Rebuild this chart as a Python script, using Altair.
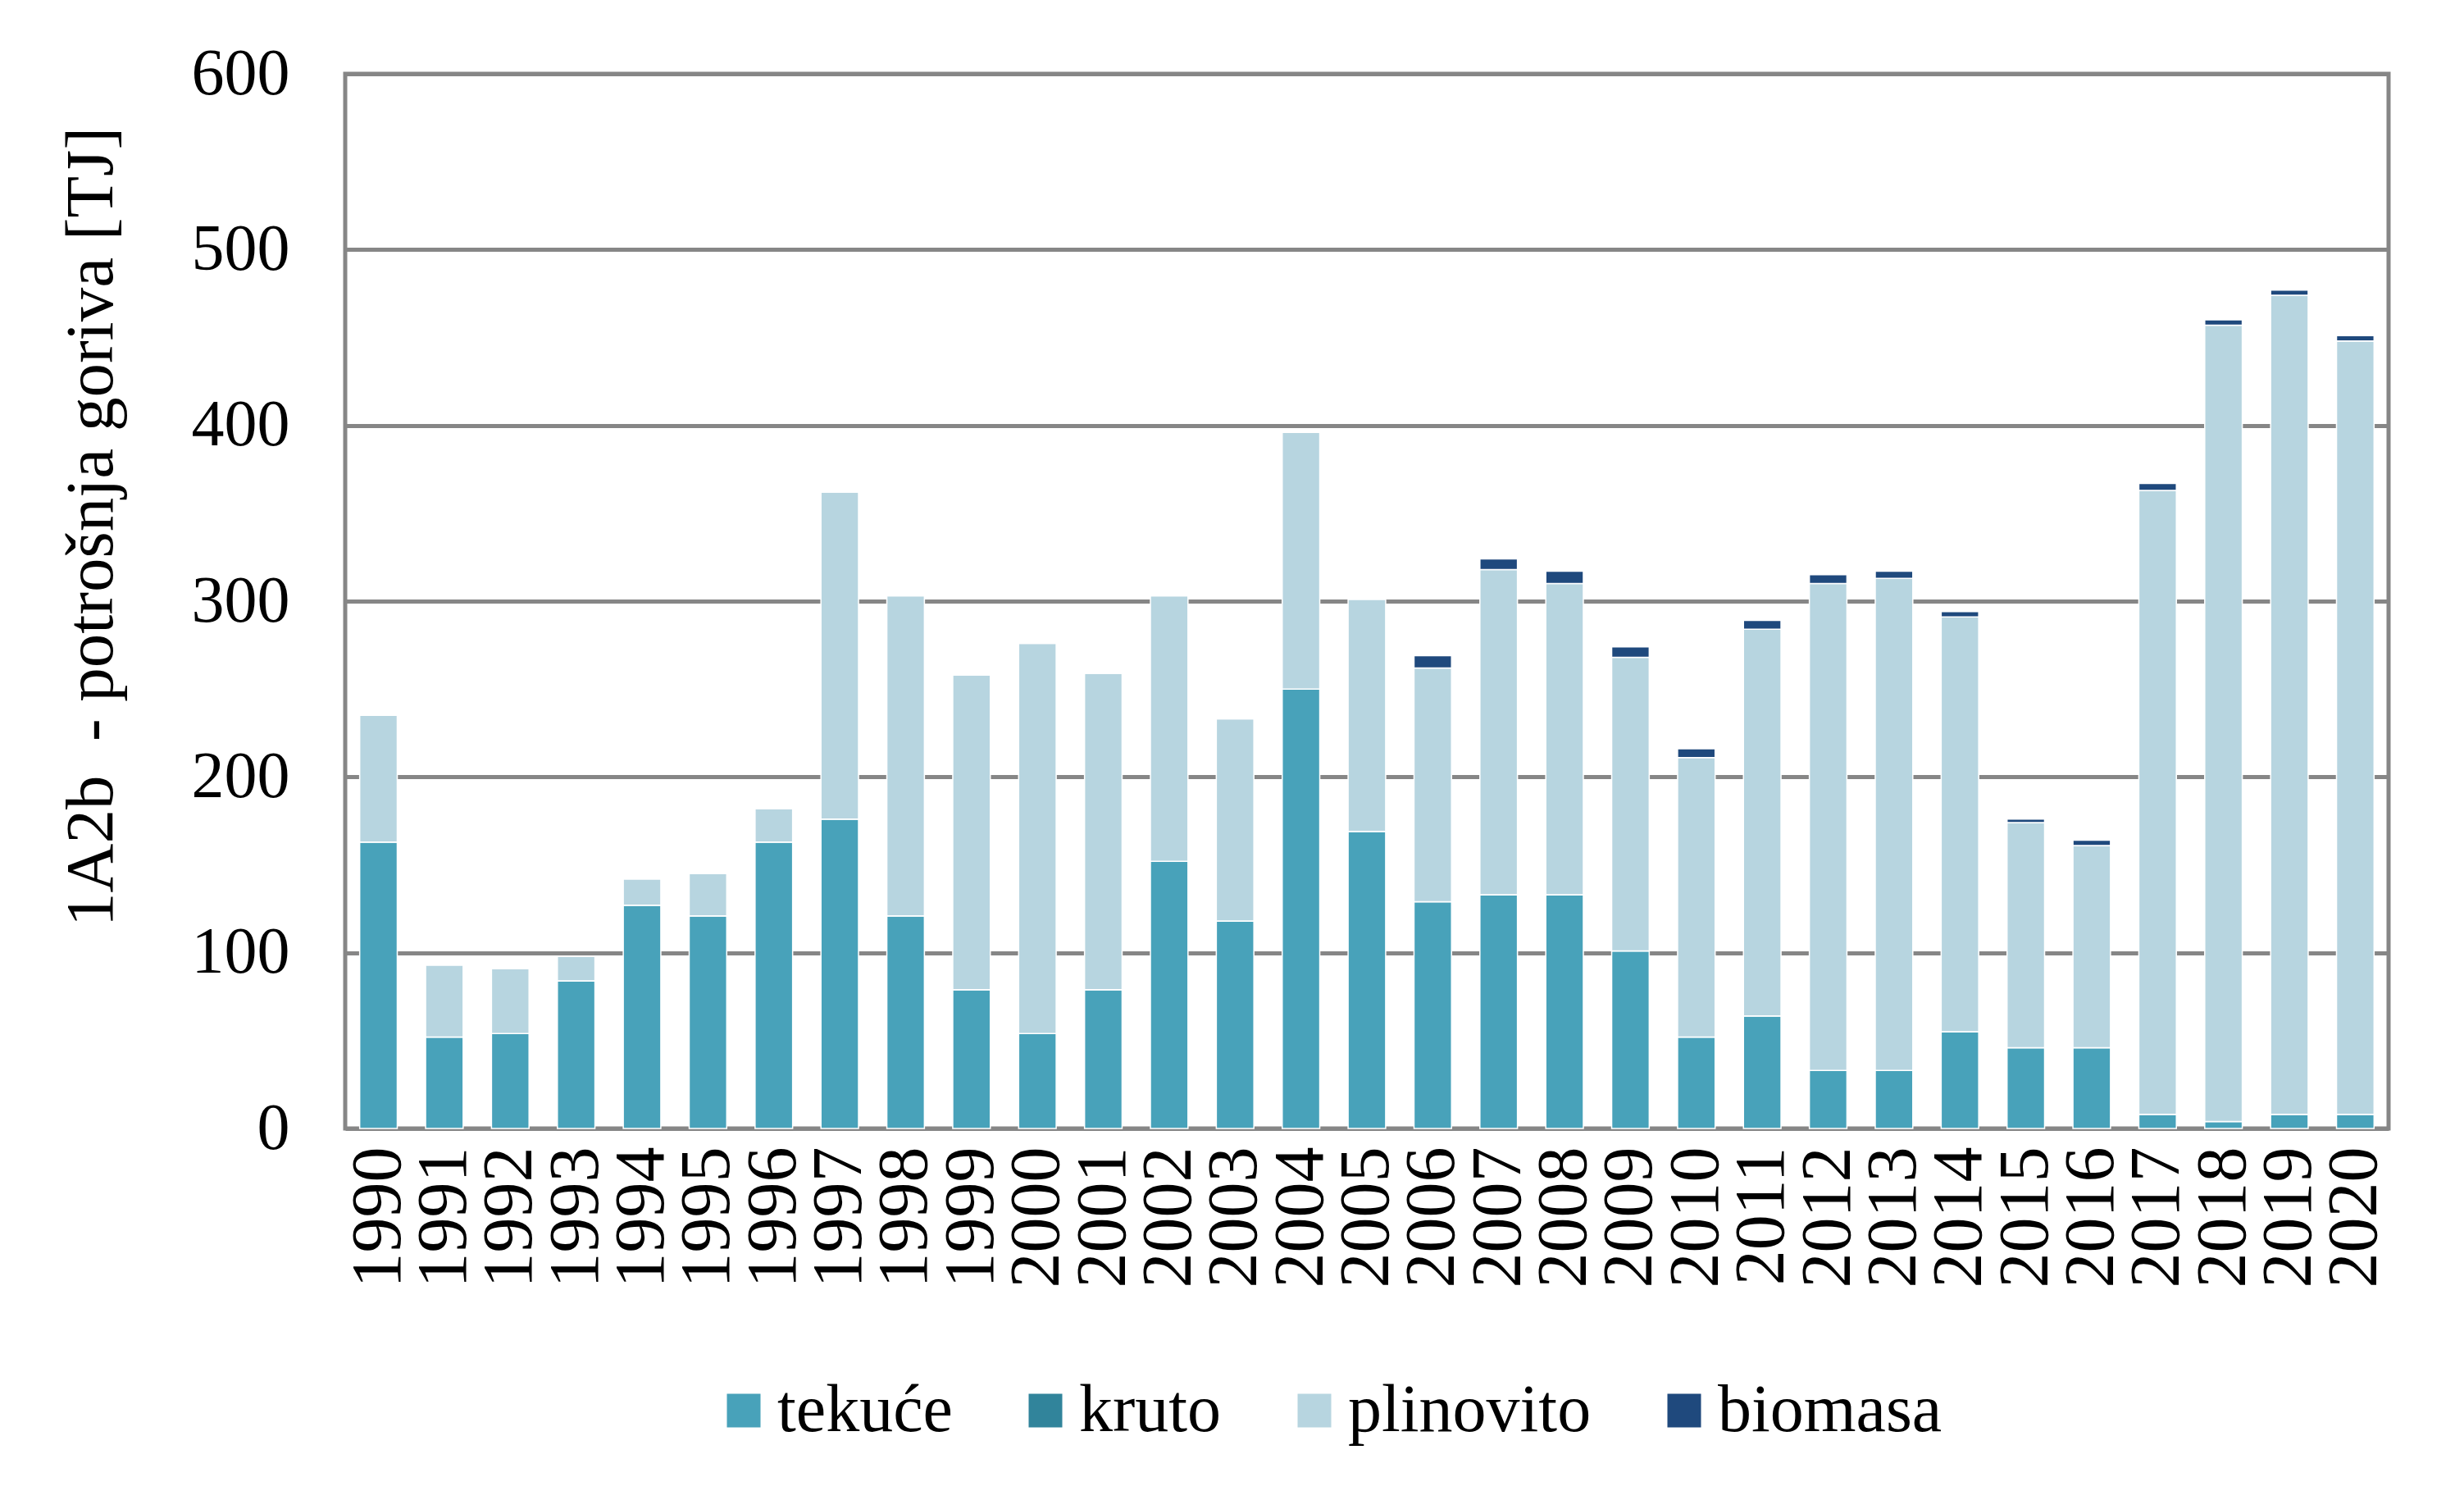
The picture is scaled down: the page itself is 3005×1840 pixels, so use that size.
import altair as alt
import pandas as pd

years = [str(y) for y in range(1990, 2021)]

tekuce = [163, 52, 54, 84, 127, 121, 163, 176, 121, 79, 54, 79, 152, 118, 250, 169,
          129, 133, 133, 101, 52, 64, 33, 33, 55, 46, 46, 8, 4, 8, 8]
kruto = [0] * 31
plinovito = [72, 41, 37, 14, 15, 24, 19, 186, 182, 179, 222, 180, 151, 115, 146, 132,
             133, 185, 177, 167, 159, 220, 277, 280, 236, 128, 115, 355, 453, 466, 440]
biomasa = [0, 0, 0, 0, 0, 0, 0, 0, 0, 0, 0, 0, 0, 0, 0, 0,
           7, 6, 7, 6, 5, 5, 5, 4, 3, 2, 3, 4, 3, 3, 3]

series = ["tekuće", "kruto", "plinovito", "biomasa"]
colors = ["#48A2BA", "#31849B", "#B7D5E0", "#1F497D"]
y_ticks = [0, 100, 200, 300, 400, 500, 600]

rows = []
for name, vals, o in zip(series, [tekuce, kruto, plinovito, biomasa], range(4)):
    for yr, v in zip(years, vals):
        rows.append({"godina": yr, "gorivo": name, "vrijednost": v, "ord": o})
df = pd.DataFrame(rows)

FONT = "Liberation Serif"

chart = alt.Chart(df).mark_bar(stroke="white", strokeWidth=1.5).encode(
    x=alt.X("godina:N", sort=years,
            scale=alt.Scale(paddingInner=0.43, paddingOuter=0.22),
            axis=alt.Axis(labelAngle=-90, domain=False, ticks=False, grid=False,
                          labelFontSize=86, labelPadding=22, labelColor="black",
                          title=None, labelFont=FONT)),
    y=alt.Y("vrijednost:Q", stack="zero",
            scale=alt.Scale(domain=[0, 600], nice=False),
            axis=alt.Axis(values=y_ticks, grid=True, gridColor="#868686", gridWidth=5,
                          domain=False, ticks=False, labelFontSize=80, labelPadding=68,
                          labelColor="black", labelFont=FONT,
                          title="1A2b\u00a0 - potrošnja goriva [TJ]",
                          titleFontSize=83, titleFontWeight="normal", titleFont=FONT,
                          titleColor="black", titleX=-310, titleY=552,
                          titleAngle=-90, titleAlign="center", titleBaseline="middle")),
    color=alt.Color("gorivo:N", sort=series,
                    scale=alt.Scale(domain=series, range=colors),
                    legend=alt.Legend(orient="none", legendX=445, legendY=1589,
                                      direction="horizontal", title=None,
                                      symbolType="square", symbolSize=1681,
                                      symbolStrokeWidth=0, labelLimit=0,
                                      labelFontSize=82, labelFont=FONT,
                                      labelColor="black", labelOffset=0,
                                      columnPadding=72)),
    order=alt.Order("ord:Q", sort="ascending"),
).properties(
    width=2492,
    height=1286,
    autosize=alt.AutoSizeParams(type="none"),
    padding={"left": 413, "top": 82, "right": 84, "bottom": 456},
).configure_view(
    stroke="#868686", strokeWidth=5
)

chart.save("out.html", embed_options={"renderer": "svg", "actions": False})
